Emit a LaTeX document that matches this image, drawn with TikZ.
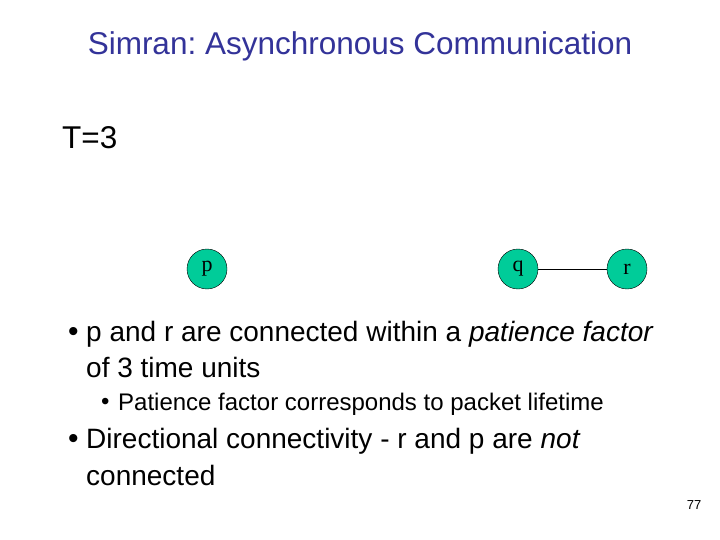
\documentclass[tikz,border=0pt]{standalone}
\usepackage{fontspec}
\setmainfont{Liberation Sans}
\newfontfamily\serif{Liberation Serif}
\definecolor{nodegreen}{RGB}{0,204,153}
\definecolor{titleblue}{RGB}{51,51,153}
\frenchspacing
\begin{document}
\begin{tikzpicture}[x=1pt,y=-1pt,
  vert/.style={circle,draw=black,fill=nodegreen,minimum size=40pt,inner sep=0pt,font=\serif\fontsize{22}{22}\selectfont},
  txt/.style={anchor=west,inner sep=0pt,font=\fontsize{28}{28}\selectfont},
  subtxt/.style={anchor=west,inner sep=0pt,font=\fontsize{24}{24}\selectfont}]
\useasboundingbox[fill=white] (0,0) rectangle (720,540);
\node[font=\fontsize{31.5}{31.5}\selectfont\frenchspacing,text=titleblue] (title) at (360,46) {Simran: Asynchronous Communication};
\node[txt,font=\fontsize{31.5}{31.5}\selectfont] (t) at (62,138) {T=3};
\node[vert] (p) at (207,269) {\raisebox{-3pt}{p}};
\node[vert] (q) at (518,269) {\raisebox{-3pt}{q}};
\node[vert] (r) at (627,269) {\raisebox{-3pt}{r}};
\draw (q) -- (r);
\node[txt,font=\fontsize{30}{30}\selectfont] (b1) at (68,334) {\textbullet};
\node[txt] (l1) at (86,334) {p and r are connected within a \textit{patience factor}};
\node[txt] (l2) at (86,367) {of 3 time units};
\node[subtxt,font=\fontsize{24}{24}\selectfont] (b2) at (101,404) {\textbullet};
\node[subtxt] (l3) at (118,404) {Patience factor corresponds to packet lifetime};
\node[txt,font=\fontsize{30}{30}\selectfont] (b3) at (68,441) {\textbullet};
\node[txt] (l4) at (86,441) {Directional connectivity - r and p are \textit{not}};
\node[txt] (l5) at (86,475) {connected};
\node[font=\fontsize{13}{13}\selectfont] (pg) at (694,505) {77};
\end{tikzpicture}
\end{document}
